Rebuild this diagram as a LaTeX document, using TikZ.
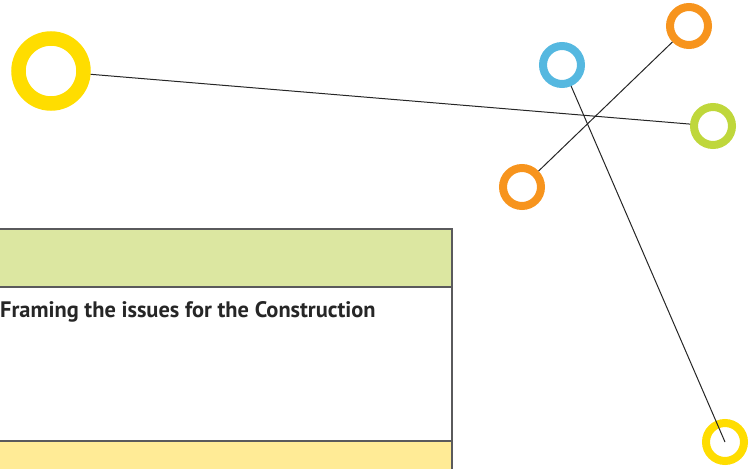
\documentclass[tikz,border=0pt]{standalone}
\usepackage{fontspec}
\setmainfont{PT Sans}
\usetikzlibrary{calc}

\definecolor{ringyellow}{HTML}{FFDD00}
\definecolor{ringorange}{HTML}{F7941D}
\definecolor{ringblue}{HTML}{55B8E0}
\definecolor{ringlime}{HTML}{BFD73B}
\definecolor{rowgreen}{HTML}{DCE7A1}
\definecolor{rowyellow}{HTML}{FFEB96}
\definecolor{rule}{HTML}{5A5A5C}

\begin{document}
\begin{tikzpicture}[x=1pt,y=-1pt]
    % `ring' is a hollow coloured circle, `bigring' the large one.
    % `link' is used for the thin connecting lines.
    % `cell' is used for the rows of the table.
    \tikzstyle{ring} = [draw,circle,line width=8pt,minimum size=38pt,inner sep=0pt]
    \tikzstyle{bigring} = [ring,line width=14.5pt,minimum size=65pt]
    \tikzstyle{link} = [line width=1pt,draw=black!85]
    \tikzstyle{cell} = [draw=rule,line width=1.5pt]
    \useasboundingbox (0,0) rectangle (756,469);
    %
    % Table rows.
    \draw[cell,fill=rowgreen] (-5,229) rectangle (452,287);
    \draw[cell,fill=white] (-5,287) rectangle (452,441);
    \draw[cell,fill=rowyellow] (-5,441) rectangle (452,480);
    \node[anchor=base west,inner sep=0pt,font=\bfseries\fontsize{22.4}{26}\selectfont,text=black!85]
      (title) at (0,317) {Framing the issues for the Construction};
    %
    % Rings.
    \node[bigring,draw=ringyellow] (yb) at (51,71) {};
    \node[ring,draw=ringlime] (lime) at (713,126) {};
    \node[ring,draw=ringblue] (blue) at (562,65) {};
    \node[ring,draw=ringorange] (ot) at (689,26) {};
    \node[ring,draw=ringorange] (ob) at (522,187) {};
    \node[ring,draw=ringyellow] (ys) at (725,442) {};
    %
    % Lines.
    \draw[link] (yb) -- (lime);
    \draw[link] (ob) -- (ot);
    \draw[link] (blue) -- (ys.center);
\end{tikzpicture}
\end{document}
